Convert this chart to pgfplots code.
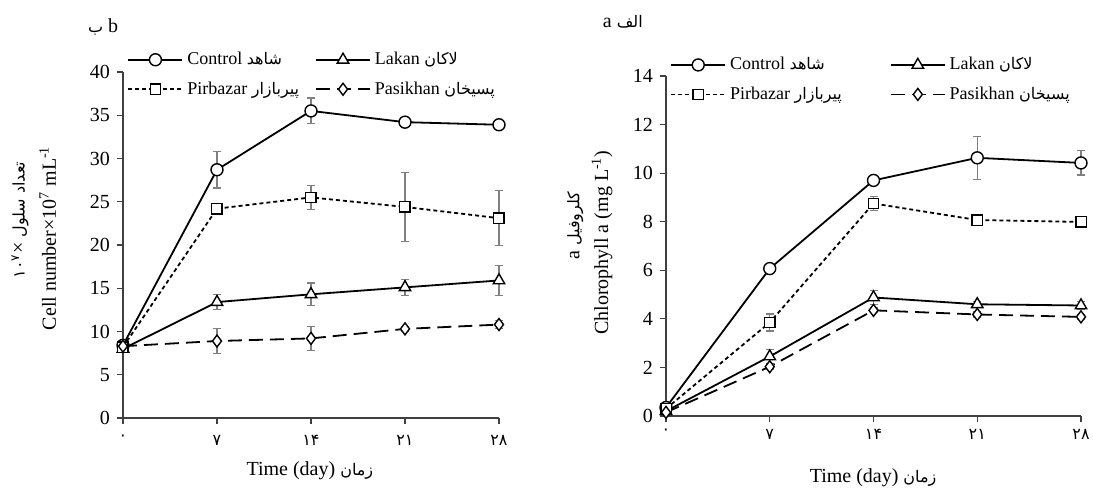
\documentclass[border=0pt]{standalone}
\usepackage{fontspec}
\setmainfont{Liberation Serif}
\newfontfamily\arabicfont[Script=Arabic]{DejaVu Sans}
\usepackage{pgfplots}
\pgfplotsset{compat=1.18}
\TeXXeTstate=1

\newcommand{\fa}[1]{{\arabicfont\fontsize{8}{9}\selectfont\beginR #1\endR}}
\newcommand{\fn}[1]{{\arabicfont\fontsize{8}{9}\selectfont #1}}

\pgfplotstableread{
x y e
0 8.4 0.3
7 28.7 2.1
14 35.5 1.5
21 34.2 0.4
28 33.9 0.3
}\cellctrl
\pgfplotstableread{
x y e
0 8.0 0.3
7 13.4 0.9
14 14.3 1.3
21 15.1 0.9
28 15.9 1.7
}\celllak
\pgfplotstableread{
x y e
0 8.2 0.3
7 24.2 0.5
14 25.5 1.4
21 24.4 4.0
28 23.1 3.2
}\cellpir
\pgfplotstableread{
x y e
0 8.3 0.3
7 8.9 1.4
14 9.2 1.4
21 10.3 0.3
28 10.8 0.5
}\cellpas

\pgfplotstableread{
x y e
0 0.35 0.05
7 6.07 0.1
14 9.70 0.15
21 10.63 0.88
28 10.42 0.5
}\chlctrl
\pgfplotstableread{
x y e
0 0.20 0.05
7 2.45 0.3
14 4.88 0.3
21 4.60 0.1
28 4.55 0.15
}\chllak
\pgfplotstableread{
x y e
0 0.30 0.1
7 3.85 0.35
14 8.75 0.3
21 8.07 0.1
28 7.99 0.1
}\chlpir
\pgfplotstableread{
x y e
0 0.15 0.05
7 2.03 0.1
14 4.35 0.1
21 4.18 0.1
28 4.08 0.1
}\chlpas

\pgfplotsset{
  panel/.style={
    scale only axis,
    axis lines=left,
    axis line style={-, black!75, line width=0.6pt},
    tick style={black!75, line width=0.6pt},
    tick align=outside,
    major tick length=3pt,
    xmin=0, xmax=28, ymin=0,
    xtick={0,7,14,21,28},
    xticklabels={\fn{۰},\fn{۷},\fn{۱۴},\fn{۲۱},\fn{۲۸}},
    clip=false,
    font=\fontsize{10}{12}\selectfont,
    /pgf/number format/assume math mode=true,
    legend columns=2,
    legend cell align=left,
    legend style={draw=none, fill=none, anchor=north west,
      font=\fontsize{9}{11}\selectfont, row sep=3pt},
    legend image code/.code={
      \draw[mark repeat=2, mark phase=2, #1]
        plot coordinates {(0pt,0pt) (13.5pt,0pt) (27pt,0pt)};
    },
  },
  ctrl/.style={black, solid, line width=0.9pt, mark=*, mark size=3pt,
    mark options={solid, fill=white, line width=0.7pt}},
  lak/.style={black, solid, line width=0.9pt, mark=triangle*, mark size=3.3pt,
    mark options={solid, fill=white, line width=0.7pt}},
  pir/.style={black, dash pattern=on 2pt off 1.5pt, line width=0.9pt, mark=square*,
    mark size=2.6pt, mark options={solid, fill=white, line width=0.7pt}},
  pas/.style={black, dash pattern=on 7pt off 3.5pt, line width=0.9pt, mark=diamond*,
    mark size=3pt, mark options={solid, fill=white, line width=0.7pt}},
  eb/.style={error bars/.cd, y dir=both, y explicit,
    error bar style={gray, solid, line width=0.6pt},
    error mark options={rotate=90, mark size=2pt, gray, solid, line width=0.6pt}},
}

\begin{document}
\begin{tikzpicture}
\useasboundingbox (0,0) rectangle (546.5pt,245.5pt);

% panel b: cell number
\begin{axis}[panel,
  at={(61.5pt,36.5pt)}, anchor=south west,
  width=188pt, height=173pt,
  ymax=40, ytick={0,5,...,40},
  xticklabel style={yshift=-2pt},
  xlabel={Time (day) \fa{زمان}},
  xlabel style={at={(axis description cs:0.497,-0.153)}, anchor=center},
  ylabel={Cell number×10\textsuperscript{7} mL\textsuperscript{-1}},
  ylabel style={at={(axis description cs:-0.2,0.52)}, anchor=center},
  legend style={at={(axis description cs:-0.005,1.082)},
    /tikz/every even column/.append style={column sep=6pt}},
]
\addplot[ctrl, eb] table[x=x, y=y, y error=e] {\cellctrl};
\addlegendentry{Control \fa{شاهد}}
\addplot[lak, eb] table[x=x, y=y, y error=e] {\celllak};
\addlegendentry{Lakan \fa{لاکان}}
\addplot[pir, eb] table[x=x, y=y, y error=e] {\cellpir};
\addlegendentry{Pirbazar \fa{پیربازار}}
\addplot[pas, eb] table[x=x, y=y, y error=e] {\cellpas};
\addlegendentry{Pasikhan \fa{پسیخان}}
\node[rotate=90, anchor=center] at (axis description cs:-0.274,0.572)
  {\fn{۱۰\textsuperscript{۷}}× \fa{تعداد سلول}};
\node[anchor=center] at (axis description cs:-0.053,1.13) {\fa{ب} b};
\end{axis}

% panel a: chlorophyll a
\begin{axis}[panel,
  at={(333pt,37.5pt)}, anchor=south west,
  width=207.5pt, height=170pt,
  ymax=14, ytick={0,2,...,14},
  xlabel={Time (day) \fa{زمان}},
  xlabel style={at={(axis description cs:0.499,-0.182)}, anchor=center},
  ylabel={Chlorophyll a (mg L\textsuperscript{-1})},
  ylabel style={at={(axis description cs:-0.154,0.51)}, anchor=center},
  legend style={at={(axis description cs:-0.005,1.08)},
    /tikz/every even column/.append style={column sep=22pt}},
]
\addplot[ctrl, eb] table[x=x, y=y, y error=e] {\chlctrl};
\addlegendentry{Control \fa{شاهد}}
\addplot[lak, eb] table[x=x, y=y, y error=e] {\chllak};
\addlegendentry{Lakan \fa{لاکان}}
\addplot[pir, eb] table[x=x, y=y, y error=e] {\chlpir};
\addlegendentry{Pirbazar \fa{پیربازار}}
\addplot[pas, eb] table[x=x, y=y, y error=e] {\chlpas};
\addlegendentry{Pasikhan \fa{پسیخان}}
\node[rotate=90, anchor=center] at (axis description cs:-0.219,0.56)
  {a \fa{کلروفیل}};
\node[anchor=center] at (axis description cs:-0.104,1.159) {a \fa{الف}};
\end{axis}
\end{tikzpicture}
\end{document}
